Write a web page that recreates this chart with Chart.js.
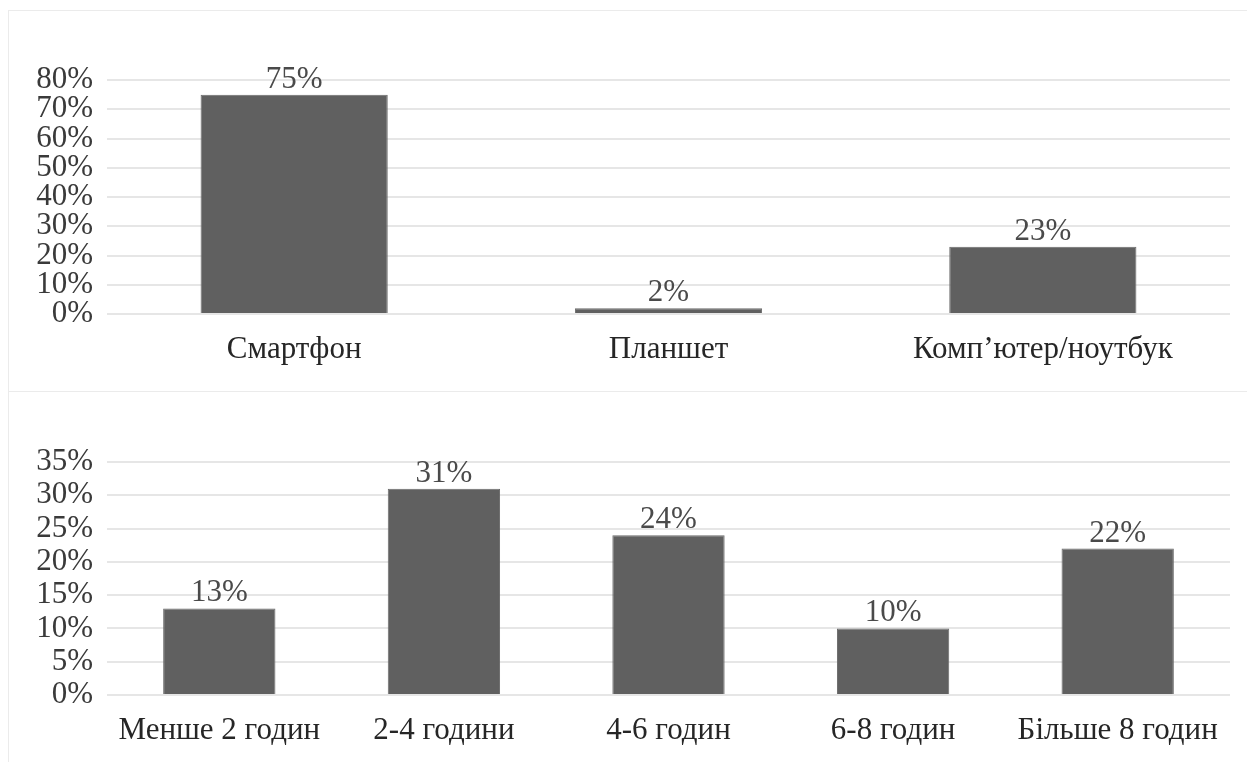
<!DOCTYPE html>
<html>
<head>
<meta charset="utf-8">
<script src="https://cdn.jsdelivr.net/npm/chart.js@4/dist/chart.umd.min.js"></script>
<style>
  html, body { margin: 0; padding: 0; background: #fff; }
  .frame {
    position: absolute; left: 8px; top: 10px; right: 0; bottom: 0;
    border-top: 1px solid #ebebeb; border-left: 1px solid #ebebeb;
  }
  .panel { position: absolute; left: 0; right: 0; }
  #top { top: 0; height: 379px; }
  #bottom { top: 380px; height: 371px; border-top: 1px solid #ebebeb; }
</style>
</head>
<body>
<div class="frame">
  <div class="panel" id="top"><canvas id="deviceChart"></canvas></div>
  <div class="panel" id="bottom"><canvas id="hoursChart"></canvas></div>
</div>
<script>
// ── Data ──────────────────────────────────────────────────────────────────
const deviceLabels = ['Смартфон', 'Планшет', 'Комп\u2019ютер/ноутбук'];
const deviceValues = [75, 2, 23];
const deviceTicks = { max: 80, step: 10 };

const hoursLabels = ['Менше 2 годин', '2-4 години', '4-6 годин', '6-8 годин', 'Більше 8 годин'];
const hoursValues = [13, 31, 24, 10, 22];
const hoursTicks = { max: 35, step: 5 };

const FONT = '"Liberation Serif", "Times New Roman", serif';
const TEXT = '#3a3a3a';

// value labels above bars
const barLabels = {
    id: 'barLabels',
    afterDatasetsDraw(chart) {
        const ctx = chart.ctx;
        ctx.save();
        ctx.font = '31px ' + FONT;
        ctx.fillStyle = '#4a4a4a';
        ctx.textAlign = 'center';
        ctx.textBaseline = 'alphabetic';
        chart.getDatasetMeta(0).data.forEach((bar, i) => {
            ctx.fillText(chart.data.datasets[0].data[i] + '%', bar.x, bar.y - 7);
        });
        ctx.restore();
    }
};

function makeChart(id, labels, values, ticks, topPad, bottomH) {
    return new Chart(document.getElementById(id), {
        type: 'bar',
        data: {
            labels: labels,
            datasets: [{
                data: values,
                backgroundColor: '#606060',
                borderColor: '#6a6a6a',
                borderWidth: 1,
                barPercentage: 1,
                categoryPercentage: 0.5
            }]
        },
        options: {
            responsive: true,
            maintainAspectRatio: false,
            animation: false,
            layout: { padding: { top: topPad, right: 17, left: 0, bottom: 0 } },
            plugins: { legend: { display: false }, tooltip: { enabled: false } },
            scales: {
                x: {
                    grid: { display: false },
                    border: { display: false },
                    ticks: { color: '#262626', font: { family: FONT, size: 31 }, padding: 9, maxRotation: 0, autoSkip: false },
                    afterFit: s => { s.height = bottomH; }
                },
                y: {
                    min: 0,
                    max: ticks.max,
                    grid: { color: '#e6e6e6', lineWidth: 2, drawTicks: false },
                    border: { display: false },
                    ticks: {
                        stepSize: ticks.step,
                        autoSkip: false,
                        color: TEXT,
                        padding: 14,
                        font: { family: FONT, size: 31, lineHeight: 0.9 },
                        callback: v => v + '%'
                    },
                    afterFit: s => { s.width = 98; }
                }
            }
        },
        plugins: [barLabels]
    });
}

makeChart('deviceChart', deviceLabels, deviceValues, deviceTicks, 69, 76);
makeChart('hoursChart', hoursLabels, hoursValues, hoursTicks, 70, 68);
</script>
</body>
</html>
